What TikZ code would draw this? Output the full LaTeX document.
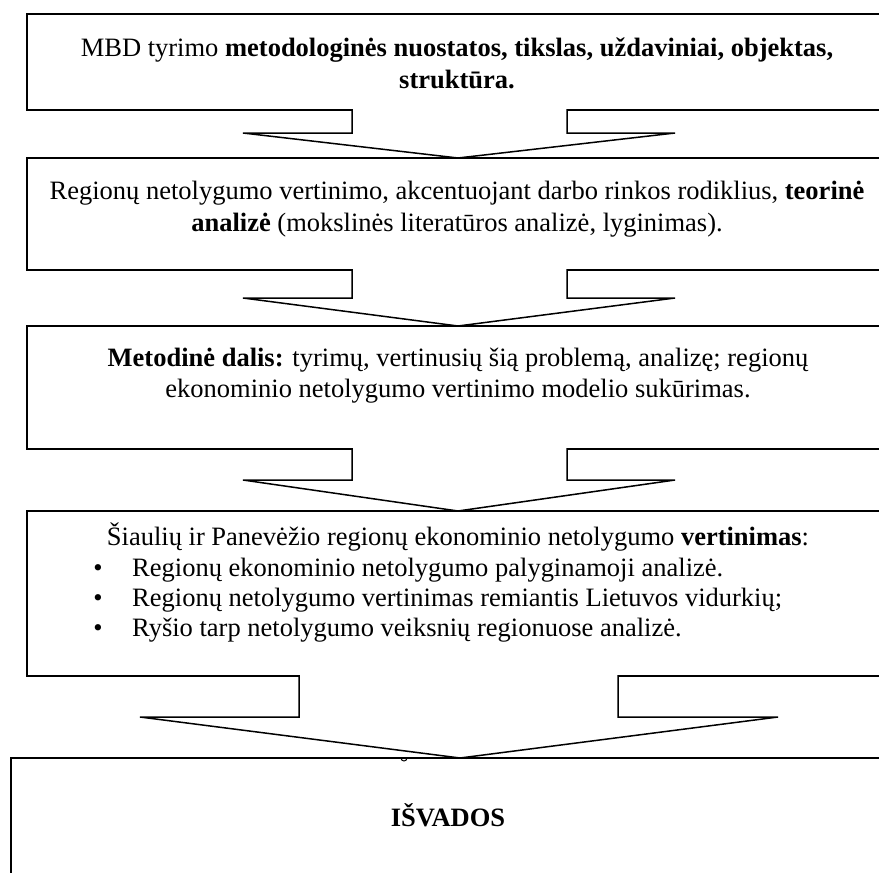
\documentclass[tikz,border=0pt]{standalone}
\usepackage{fontspec}
\setmainfont{Liberation Serif}
\begin{document}
\begin{tikzpicture}[x=1pt,y=-1pt,
  frame/.style={draw=black,line width=1.6pt,anchor=north west,inner sep=0pt,outer sep=0pt},
  blockarrow/.style={draw=black,line width=1.5pt,fill=white,line join=miter},
  txt/.style={font=\fontsize{26.5}{31}\selectfont,inner sep=0pt,anchor=base},
  txtl/.style={txt,anchor=base west}]
\useasboundingbox (0,0) rectangle (879,873);
\clip (0,0) rectangle (879,873);
% boxes
\node[frame,minimum width=900pt,minimum height=96pt] (b1) at (27,14) {};
\node[frame,minimum width=900pt,minimum height=112pt] (b2) at (27,158) {};
\node[frame,minimum width=900pt,minimum height=123pt] (b3) at (27,326) {};
\node[frame,minimum width=900pt,minimum height=165pt] (b4) at (27,511) {};
\node[frame,minimum width=900pt,minimum height=200pt] (b5) at (11,758) {};
% tips
\coordinate (t1) at (458,158);
\coordinate (t2) at (458,326);
\coordinate (t3) at (458,511);
\coordinate (t4) at (460,758);
% block arrows
\draw[blockarrow] (352,109) -- (352,133) -- (243,133) -- (t1) -- (675,133) -- (567,133) -- (567,109);
\draw[blockarrow] (352,269) -- (352,298) -- (243,298) -- (t2) -- (675,298) -- (567,298) -- (567,269);
\draw[blockarrow] (352,448) -- (352,480) -- (243,480) -- (t3) -- (675,480) -- (567,480) -- (567,448);
\draw[blockarrow] (299,675) -- (299,717) -- (140,717) -- (t4) -- (778,717) -- (618,717) -- (618,675);
\draw[line width=1pt] (401,758) arc (180:0:3);
% texts
\node[txt] (l1a) at (457,56) {MBD tyrimo \textbf{metodologinės nuostatos, tikslas, uždaviniai, objektas,}};
\node[txt] (l1b) at (457,88) {\textbf{struktūra.}};
\node[txt] (l2a) at (457,199) {Regionų netolygumo vertinimo, akcentuojant darbo rinkos rodiklius, \textbf{teorinė}};
\node[txt] (l2b) at (457,231) {\textbf{analizė} (mokslinės literatūros analizė, lyginimas).};
\node[txt] (l3a) at (458,366) {\textbf{Metodinė dalis:} tyrimų, vertinusių šią problemą, analizę; regionų};
\node[txt] (l3b) at (458,397) {ekonominio netolygumo vertinimo modelio sukūrimas.};
\node[txt] (l4a) at (458,545) {Šiaulių ir Panevėžio regionų ekonominio netolygumo \textbf{vertinimas}:};
\node[txt] (d1) at (98,576) {\textbullet};
\node[txtl] (l4b) at (132,576) {Regionų ekonominio netolygumo palyginamoji analizė.};
\node[txt] (d2) at (98,606) {\textbullet};
\node[txtl] (l4c) at (132,606) {Regionų netolygumo vertinimas remiantis Lietuvos vidurkių;};
\node[txt] (d3) at (98,636) {\textbullet};
\node[txtl] (l4d) at (132,636) {Ryšio tarp netolygumo veiksnių regionuose analizė.};
\node[txt] (l5) at (448,826) {\textbf{IŠVADOS}};
\end{tikzpicture}
\end{document}
